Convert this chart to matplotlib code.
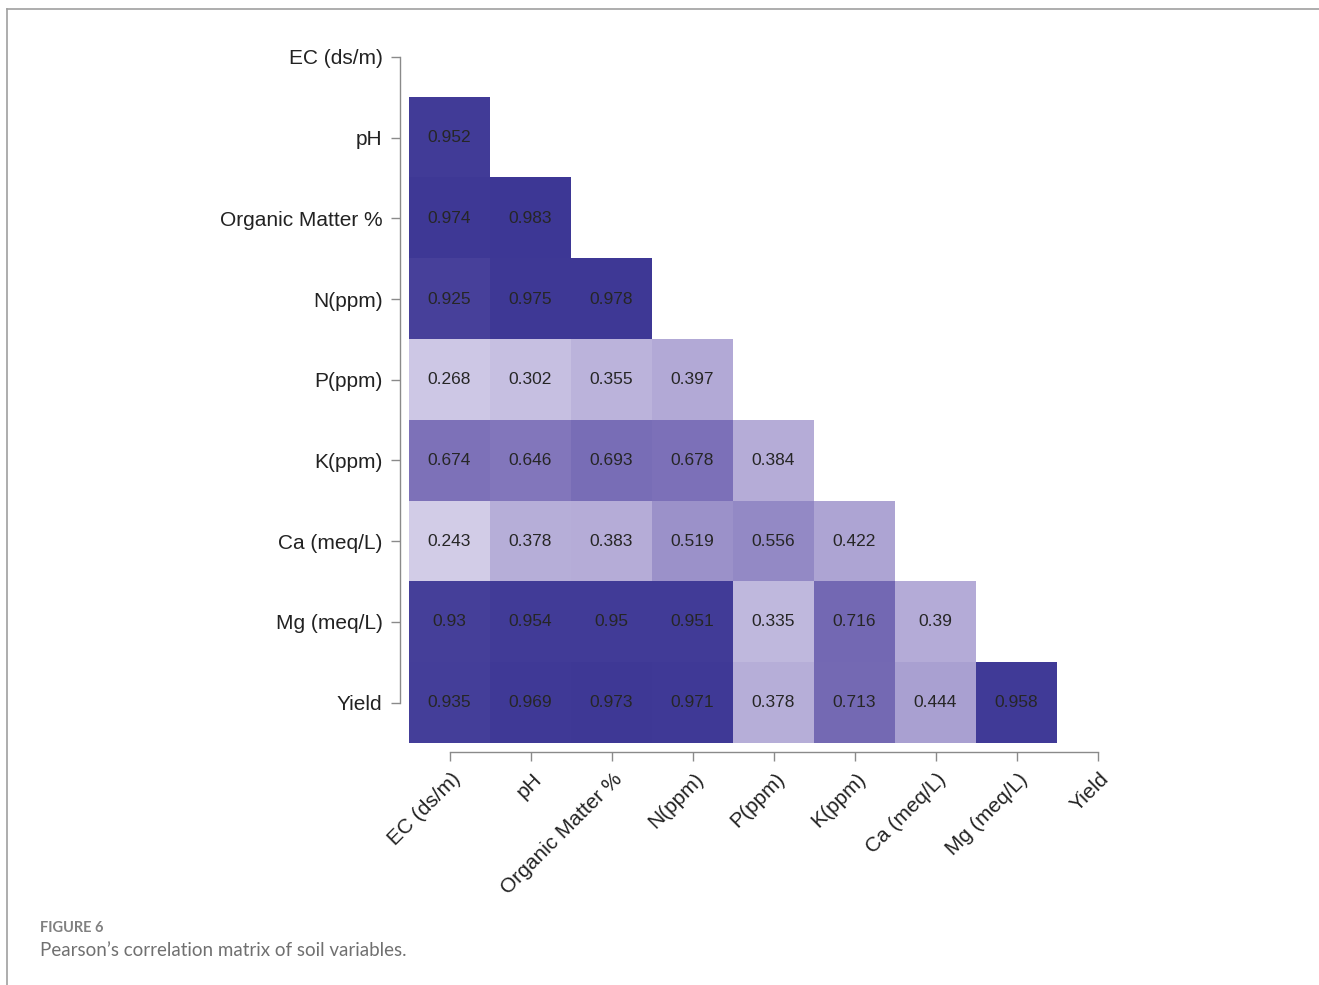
import numpy as np
import matplotlib
matplotlib.use('Agg')
import matplotlib.pyplot as plt
from matplotlib.colors import LinearSegmentedColormap
from matplotlib.transforms import ScaledTranslation
from matplotlib.lines import Line2D

plt.rcParams['font.family'] = ['Liberation Sans', 'DejaVu Sans']

variables = ['EC (ds/m)', 'pH', 'Organic Matter %', 'N(ppm)', 'P(ppm)',
             'K(ppm)', 'Ca (meq/L)', 'Mg (meq/L)', 'Yield']

# lower triangle, one list per row (row i has i values)
r_ph = [0.952]
r_om = [0.974, 0.983]
r_n = [0.925, 0.975, 0.978]
r_p = [0.268, 0.302, 0.355, 0.397]
r_k = [0.674, 0.646, 0.693, 0.678, 0.384]
r_ca = [0.243, 0.378, 0.383, 0.519, 0.556, 0.422]
r_mg = [0.93, 0.954, 0.95, 0.951, 0.335, 0.716, 0.39]
r_yield = [0.935, 0.969, 0.973, 0.971, 0.378, 0.713, 0.444, 0.958]
rows = [[], r_ph, r_om, r_n, r_p, r_k, r_ca, r_mg, r_yield]

n = len(variables)
mat = np.full((n, n), np.nan)
for i, row in enumerate(rows):
    for j, v in enumerate(row):
        mat[i, j] = v

cmap = LinearSegmentedColormap.from_list(
    'purp', [(0.0, '#ffffff'), (0.24, '#d3cde8'), (0.40, '#b2a9d6'),
             (0.67, '#7e72b9'), (0.95, '#423c98'), (1.0, '#3c3694')])

fig = plt.figure(figsize=(13.19, 9.85), dpi=100)
W, H = 1319, 985
ax = fig.add_axes([409 / W, 1 - 743 / H, 729 / W, 726.5 / H])

ax.imshow(np.ma.masked_invalid(mat), cmap=cmap, vmin=0, vmax=1,
          extent=(-0.5, n - 0.5, n - 0.5, -0.5), aspect='auto',
          interpolation='nearest')
for i, row in enumerate(rows):
    for j, v in enumerate(row):
        ax.text(j, i, f'{v:g}', ha='center', va='center', fontsize=12.5,
                color='#262626')

ax.set_xlim(-0.5, n - 0.5)
ax.set_ylim(n - 0.5, -0.5)

grey = '#8a8a8a'
for s in ['top', 'right']:
    ax.spines[s].set_visible(False)
for s in ['left', 'bottom']:
    ax.spines[s].set_position(('outward', 6.5))
    ax.spines[s].set_bounds(0, n - 1)
    ax.spines[s].set_color(grey)
    ax.spines[s].set_linewidth(1.0)

ax.set_xticks(range(n))
ax.set_yticks(range(n))
ax.set_yticklabels(variables, fontsize=15, color='#222222')
ax.set_xticklabels(variables, fontsize=15, color='#222222', rotation=45,
                   ha='right', va='center', rotation_mode='anchor')
ax.tick_params(axis='both', length=6.5, width=1.0, color=grey)
ax.tick_params(axis='y', pad=6)
ax.tick_params(axis='x', pad=11)
off = ScaledTranslation(8 / 100, 0, fig.dpi_scale_trans)
for lab in ax.get_xticklabels():
    lab.set_transform(lab.get_transform() + off)

# page frame lines
fig.add_artist(Line2D([7 / W, 1], [1 - 9 / H, 1 - 9 / H], color='#a0a0a0', lw=1.2))
fig.add_artist(Line2D([7 / W, 7 / W], [0, 1 - 9 / H], color='#a0a0a0', lw=1.2))

fig.text(40 / W, 1 - 928 / H, 'FIGURE 6', fontsize=10.5, color='#808080',
         family=['Lato', 'DejaVu Sans'], weight='bold', va='center')
fig.text(40 / W, 1 - 951 / H, 'Pearson\u2019s correlation matrix of soil variables.',
         fontsize=13.5, color='#707070', family=['Lato', 'DejaVu Sans'], va='center')

fig.savefig('out.png', dpi=100)
